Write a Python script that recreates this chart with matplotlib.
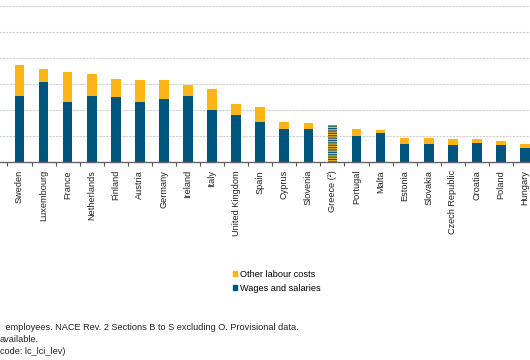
import matplotlib.pyplot as plt
from matplotlib.patches import Patch

plt.rcParams['font.family'] = ['Liberation Sans', 'DejaVu Sans']

# Datos (EUR por hora)
paises = ["", "Sweden", "Luxembourg", "France", "Netherlands", "Finland",
          "Austria", "Germany", "Ireland", "Italy", "United Kingdom", "Spain",
          "Cyprus", "Slovenia", "Greece (²)", "Portugal", "Malta", "Estonia",
          "Slovakia", "Czech Republic", "Croatia", "Poland", "Hungary"]
salarios = [28.5, 25.4, 31.0, 23.1, 25.4, 25.1, 23.3, 24.5, 25.6, 20.3, 18.3, 15.6,
            12.8, 12.8, 0.0, 10.1, 11.4, 7.1, 7.1, 6.7, 7.6, 6.7, 5.5]
otros = [10.9, 11.9, 4.8, 11.6, 8.6, 7.0, 8.2, 7.0, 4.1, 7.8, 4.0, 5.6,
         2.7, 2.5, 0.0, 2.7, 0.9, 2.4, 2.4, 2.4, 1.5, 1.5, 1.6]
grecia_total = 14.4
idx_grecia = 14

azul = "#00557f"
amarillo = "#fdb515"

fig = plt.figure(figsize=(5.3, 3.6), dpi=100)
W, H = 530, 360
base_px = 162.3
px_por_unidad = 2.6
izq_px, der_px = -16.6, 537.0
ax = fig.add_axes([izq_px / W, (H - base_px) / H,
                   (der_px - izq_px) / W, 62 * px_por_unidad / H])

x = list(range(len(paises)))
ax.bar(x, salarios, width=0.4, color=azul, zorder=3)
ax.bar(x, otros, width=0.4, bottom=salarios, color=amarillo, zorder=3)

# Grecia sin desglose: barra rayada
plt.rcParams['hatch.linewidth'] = 0.9
ax.bar([idx_grecia], [grecia_total], width=0.4, color=azul, edgecolor=amarillo,
       hatch="-------", linewidth=0, zorder=3)

ax.set_xlim(-0.5, len(paises) - 0.5)
ax.set_ylim(0, 62)
ax.set_yticks([10, 20, 30, 40, 50, 60])
ax.tick_params(axis="y", length=0, labelleft=False)
ax.yaxis.grid(True, linestyle=(0, (2, 1)), color="#cfcfcf", linewidth=0.8, zorder=0)

ax.set_xticks(x)
ax.set_xticklabels(paises, rotation=90, fontsize=6.6, color="#222222")
ax.set_xticks([i - 0.5 for i in x] + [len(paises) - 0.5], minor=True)
ax.tick_params(axis="x", which="major", length=0, pad=5.5)
ax.tick_params(axis="x", which="minor", length=3, color="#555555", width=0.8)

for lado in ["top", "right", "left"]:
    ax.spines[lado].set_visible(False)
ax.spines["bottom"].set_color("#666666")
ax.spines["bottom"].set_linewidth(1.0)

manejadores = [Patch(color=amarillo, label="Other labour costs"),
               Patch(color=azul, label="Wages and salaries")]
fig.legend(handles=manejadores, loc="upper left",
           bbox_to_anchor=(228 / W, 1 - 265 / H), frameon=False,
           fontsize=6.6, handlelength=0.5, handleheight=0.5,
           handletextpad=0.3, labelspacing=0.55, borderpad=0)

notas = [(3, 328, " employees. NACE Rev. 2 Sections B to S excluding O. Provisional data."),
         (0, 339.5, "available."),
         (0, 351, "code: lc_lci_lev)")]
for nx, ny, txt in notas:
    fig.text(nx / W, 1 - ny / H, txt, fontsize=6.6, va="center", ha="left",
             color="#222222")

fig.savefig("out.png", dpi=100)
